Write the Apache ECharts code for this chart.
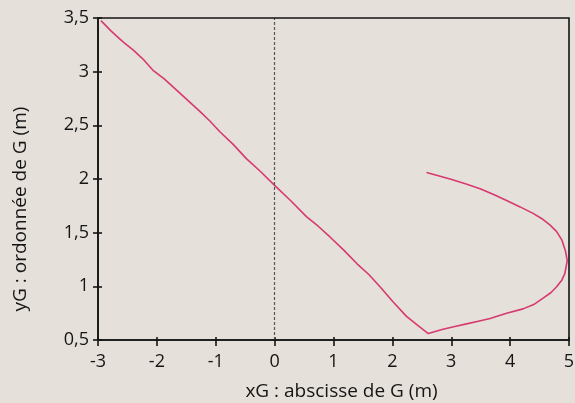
<!DOCTYPE html>
<html>
<head>
<meta charset="utf-8">
<script src="https://cdn.jsdelivr.net/npm/echarts@6/dist/echarts.min.js"></script>
<style>
html,body{margin:0;padding:0;background:#e5e0da;}
#chart{width:575px;height:403px;}
</style>
</head>
<body>
<div id="chart"></div>
<script>
// trajectoire du point G
var xG = [-2.95, -2.78, -2.58, -2.40, -2.24, -2.07, -1.87, -1.67, -1.47, -1.27, -1.10, -0.93, -0.70, -0.48, -0.24, 0.00,
	0.27, 0.54, 0.74, 0.94, 1.17, 1.40, 1.60, 1.79, 2.01, 2.24, 2.42, 2.61,
	2.86, 3.06, 3.26, 3.46, 3.66, 3.94, 4.22, 4.40, 4.56, 4.69, 4.79, 4.88, 4.93, 4.97, 4.94, 4.88, 4.79, 4.68, 4.54, 4.39,
	4.17, 3.94, 3.72, 3.49, 3.24, 2.98, 2.78, 2.58];
var yG = [3.475, 3.38, 3.28, 3.20, 3.12, 3.015, 2.93, 2.83, 2.73, 2.63, 2.54, 2.44, 2.32, 2.19, 2.07, 1.94,
	1.80, 1.65, 1.56, 1.46, 1.34, 1.21, 1.11, 0.996, 0.856, 0.72, 0.64, 0.56,
	0.60, 0.625, 0.65, 0.675, 0.70, 0.75, 0.79, 0.83, 0.89, 0.94, 0.996, 1.06, 1.12, 1.24, 1.33, 1.43, 1.51, 1.57, 1.63, 1.68,
	1.74, 1.80, 1.855, 1.91, 1.955, 2.00, 2.03, 2.06];
var xTicks = [-3, 5, 1];   // min, max, pas
var yTicks = [0.5, 3.5, 0.5];

var pts = [];
for (var i = 0; i < xG.length; i++) {
	pts.push([xG[i], yG[i]]);
}

var chart = echarts.init(document.getElementById('chart'));
var ink = '#151515';
var lbl = {color: ink, fontFamily: 'Open Sans', fontSize: 18};
var nameTxt = {color: ink, fontFamily: 'Open Sans', fontSize: 19};
var comma = function (v) { return String(v).replace('.', ','); };
var axLine = {show: true, onZero: false, lineStyle: {color: ink, width: 1.6}};
var tickStyle = {color: ink, width: 1.6};

var option = {
	animation: false,
	backgroundColor: '#e5e0da',
	grid: {
		left: 98, right: 6, top: 18, bottom: 63,
		outerBoundsMode: 'none'
	},
	xAxis: [{
		type: 'value',
		min: xTicks[0], max: xTicks[1], interval: xTicks[2],
		name: 'xG : abscisse de G (m)',
		nameLocation: 'middle',
		nameGap: 42,
		nameTextStyle: Object.assign({padding: [0, 0, 0, 16]}, nameTxt),
		axisLine: axLine,
		axisTick: {show: true, inside: false, length: 6, lineStyle: tickStyle},
		axisLabel: Object.assign({margin: 13, formatter: comma}, lbl),
		splitLine: {show: false}
	}, {
		// petits traits vers l'intérieur
		type: 'value', position: 'bottom',
		min: xTicks[0], max: xTicks[1], interval: xTicks[2],
		axisLine: {show: false, onZero: false},
		axisTick: {show: true, inside: true, length: 3, lineStyle: tickStyle},
		axisLabel: {show: false},
		splitLine: {show: false}
	}],
	yAxis: [{
		type: 'value',
		min: yTicks[0], max: yTicks[1], interval: yTicks[2],
		name: 'yG : ordonnée de G (m)',
		nameLocation: 'middle',
		nameGap: 68,
		nameTextStyle: Object.assign({padding: [0, 60, 0, 0]}, nameTxt),
		axisLine: axLine,
		axisTick: {show: true, inside: false, length: 5, lineStyle: tickStyle},
		axisLabel: Object.assign({margin: 9, formatter: comma}, lbl),
		splitLine: {show: false}
	}, {
		type: 'value', position: 'left',
		min: yTicks[0], max: yTicks[1], interval: yTicks[2],
		axisLine: {show: false, onZero: false},
		axisTick: {show: true, inside: true, length: 4, lineStyle: tickStyle},
		axisLabel: {show: false},
		splitLine: {show: false}
	}],
	series: [{
		type: 'line',
		data: pts,
		symbol: 'none',
		smooth: false,
		clip: false,
		z: 3,
		lineStyle: {color: '#d63a70', width: 1.6},
		markLine: {
			silent: true,
			symbol: 'none',
			label: {show: false},
			lineStyle: {color: '#555', type: [3, 2], width: 1.2},
			data: [{xAxis: 0}]
		}
	}]
};
chart.setOption(option);

// cadre complet autour du graphe, calé sur les échelles
var p0 = chart.convertToPixel({xAxisIndex: 0, yAxisIndex: 0}, [xTicks[0], yTicks[1]]);
var p1 = chart.convertToPixel({xAxisIndex: 0, yAxisIndex: 0}, [xTicks[1], yTicks[0]]);
chart.setOption({
	graphic: [{
		type: 'rect',
		silent: true,
		z: 10,
		shape: {x: p0[0], y: p0[1], width: p1[0] - p0[0], height: p1[1] - p0[1]},
		style: {fill: 'none', stroke: ink, lineWidth: 1.6}
	}]
});
</script>
</body>
</html>
